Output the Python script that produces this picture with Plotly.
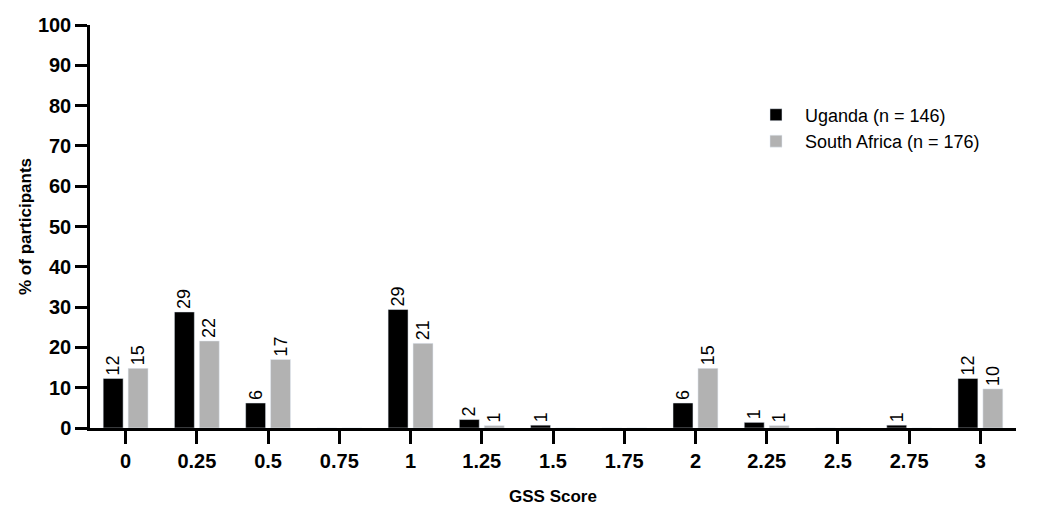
import plotly.graph_objects as go

gss_scores = ["0", "0.25", "0.5", "0.75", "1", "1.25", "1.5", "1.75", "2", "2.25", "2.5", "2.75", "3"]
uganda_pct = [12.3, 28.8, 6.2, 0, 29.4, 2.1, 0.7, 0, 6.2, 1.4, 0, 0.7, 12.3]
south_africa_pct = [14.8, 21.6, 17.0, 0, 21.0, 0.6, 0, 0, 14.8, 0.6, 0, 0, 9.7]

series_names = ["Uganda (n = 146)", "South Africa (n = 176)"]
y_ticks = list(range(0, 101, 10))

FONT = "Arial, Liberation Sans, Helvetica, sans-serif"


def bar_labels(values):
    return [f"{v:.0f}" if v > 0 else "" for v in values]


fig = go.Figure()
for name, vals, color in [(series_names[0], uganda_pct, "#000000"),
                          (series_names[1], south_africa_pct, "#b2b2b2")]:
    fig.add_trace(go.Bar(
        x=gss_scores, y=vals, name=name,
        marker_color=color,
        text=bar_labels(vals),
        textposition="outside",
        textangle=-90,
        constraintext="none",
        cliponaxis=False,
        textfont=dict(family=FONT, size=18, color="#000000"),
    ))

# page body has an 8px margin, so the figure is a bit smaller than the window
fig.update_layout(
    width=1034, height=498,
    margin=dict(l=82, r=26, t=17, b=78),
    paper_bgcolor="white", plot_bgcolor="white",
    barmode="group", bargap=0.3, bargroupgap=0.2,
    font=dict(family=FONT, color="#000000"),
    legend=dict(
        x=0.7095, y=0.8225, xanchor="left", yanchor="top",
        itemwidth=48,
        font=dict(family=FONT, size=18),
        bgcolor="rgba(0,0,0,0)",
    ),
    xaxis=dict(
        type="category", range=[-0.5, 12.5], automargin=False,
        showline=True, linecolor="#000000", linewidth=2.5,
        ticks="outside", ticklen=13, tickwidth=2.5, tickcolor="#000000",
        showgrid=False,
        tickfont=dict(family=FONT, size=20, color="#000000", weight="bold"),
        title=dict(text="<b>GSS Score</b>", font=dict(family=FONT, size=17), standoff=20),
    ),
    yaxis=dict(
        range=[0, 100], tickvals=y_ticks, automargin=False,
        showline=True, linecolor="#000000", linewidth=2.5,
        ticks="outside", ticklen=12, tickwidth=2.5, tickcolor="#000000",
        showgrid=False, zeroline=False,
        tickfont=dict(family=FONT, size=20, color="#000000", weight="bold"),
        title=dict(text="<b>% of participants</b>", font=dict(family=FONT, size=17), standoff=2),
    ),
)

fig.write_html("out.html")
